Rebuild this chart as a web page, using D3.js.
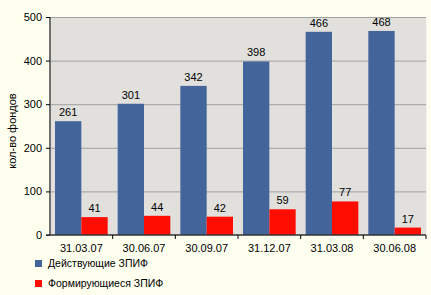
<!DOCTYPE html>
<meta charset="utf-8">
<script src="https://d3js.org/d3.v7.min.js"></script>
<style>
  body { margin: 0; background: #fffff0; }
  svg { font-family: "Liberation Sans", Arial, sans-serif; font-size: 11px; }
  .grid line { stroke: #a0a0a0; }
</style>
<body>
<script>
var dates = ["31.03.07", "30.06.07", "30.09.07", "31.12.07", "31.03.08", "30.06.08"];
var active = [261, 301, 342, 398, 466, 468];
var forming = [41, 44, 42, 59, 77, 17];
var seriesNames = ["Действующие ЗПИФ", "Формирующиеся ЗПИФ"];
var yTicks = [0, 100, 200, 300, 400, 500];

var W = 431, H = 295;
var margin = {top: 17, right: 5, bottom: 60, left: 50},
    width = W - margin.left - margin.right,
    height = H - margin.top - margin.bottom;
var colors = ["#44649c", "#ff0d00"];

var svg = d3.select("body").append("svg")
    .attr("width", W)
    .attr("height", H);

var g = svg.append("g")
    .attr("transform", "translate(" + margin.left + "," + margin.top + ")");

var x = d3.scaleBand().domain(dates).range([0, width]).paddingInner(0).paddingOuter(0);
var inner = d3.scaleBand().domain([0, 1]).range([5, x.bandwidth() - 5]);
var y = d3.scaleLinear().domain([0, 500]).range([height, 0]);

// plot background
g.append("rect")
    .attr("width", width)
    .attr("height", height)
    .attr("fill", "#e1e0dd");

// grid
g.append("g").attr("class", "grid")
  .selectAll("line")
  .data(yTicks.slice(1))
  .enter().append("line")
    .attr("x1", 0).attr("x2", width)
    .attr("y1", d => y(d) + 0.5).attr("y2", d => y(d) + 0.5);

// right edge shading
g.append("line")
    .attr("x1", width + 0.5).attr("x2", width + 0.5)
    .attr("y1", 0).attr("y2", height)
    .attr("stroke", "#f4f4f0");

var data = dates.map((d, i) => ({date: d, vals: [active[i], forming[i]]}));

var groups = g.selectAll(".grp")
    .data(data)
    .enter().append("g")
    .attr("transform", d => "translate(" + x(d.date) + ",0)");

groups.selectAll("rect")
    .data(d => d.vals.map((v, k) => ({v, k})))
    .enter().append("rect")
    .attr("x", d => inner(d.k))
    .attr("y", d => y(d.v))
    .attr("width", inner.bandwidth())
    .attr("height", d => height - y(d.v))
    .attr("fill", d => colors[d.k]);

groups.selectAll("text")
    .data(d => d.vals.map((v, k) => ({v, k})))
    .enter().append("text")
    .attr("x", d => inner(d.k) + inner.bandwidth() / 2)
    .attr("y", d => y(d.v) - 5)
    .attr("text-anchor", "middle")
    .attr("fill", "#000")
    .text(d => d.v);

// y axis
var yAxis = g.append("g")
    .call(d3.axisLeft(y).tickValues(yTicks).tickSize(4).tickPadding(4));
yAxis.select(".domain").attr("stroke", "#707070").attr("stroke-width", 2)
    .attr("d", "M0," + (y(500)) + "V" + height);
yAxis.selectAll(".tick line").attr("stroke", "#000");
yAxis.selectAll(".tick text").attr("font-size", 11).attr("fill", "#000")
    .attr("font-family", "Liberation Sans, Arial, sans-serif");

// x axis
var xAxis = g.append("g")
    .attr("transform", "translate(0," + height + ")")
    .call(d3.axisBottom(x).tickSize(0).tickPadding(9));
xAxis.select(".domain").attr("stroke", "#333").attr("stroke-width", 1.5)
    .attr("d", "M-4,0H" + width);
xAxis.selectAll(".tick text").attr("font-size", 11).attr("fill", "#000")
    .attr("font-family", "Liberation Sans, Arial, sans-serif");

// category separators
xAxis.selectAll(".sep")
    .data(dates)
    .enter().append("line")
    .attr("x1", d => x(d) + x.bandwidth())
    .attr("x2", d => x(d) + x.bandwidth())
    .attr("y1", 0).attr("y2", 4)
    .attr("stroke", "#000");

// y label
svg.append("text")
    .attr("transform", "translate(16,131) rotate(-90)")
    .attr("text-anchor", "middle")
    .text("кол-во фондов");

// legend
var legend = svg.selectAll(".leg")
    .data(seriesNames)
    .enter().append("g")
    .attr("transform", (d, i) => "translate(35," + (260 + i * 20) + ")");

legend.append("rect")
    .attr("width", 7).attr("height", 7)
    .attr("fill", (d, i) => colors[i]);

legend.append("text")
    .attr("x", 13).attr("y", 3.5)
    .attr("dy", "0.35em")
    .attr("font-size", 10.5)
    .text(d => d);
</script>
</body>
</html>
